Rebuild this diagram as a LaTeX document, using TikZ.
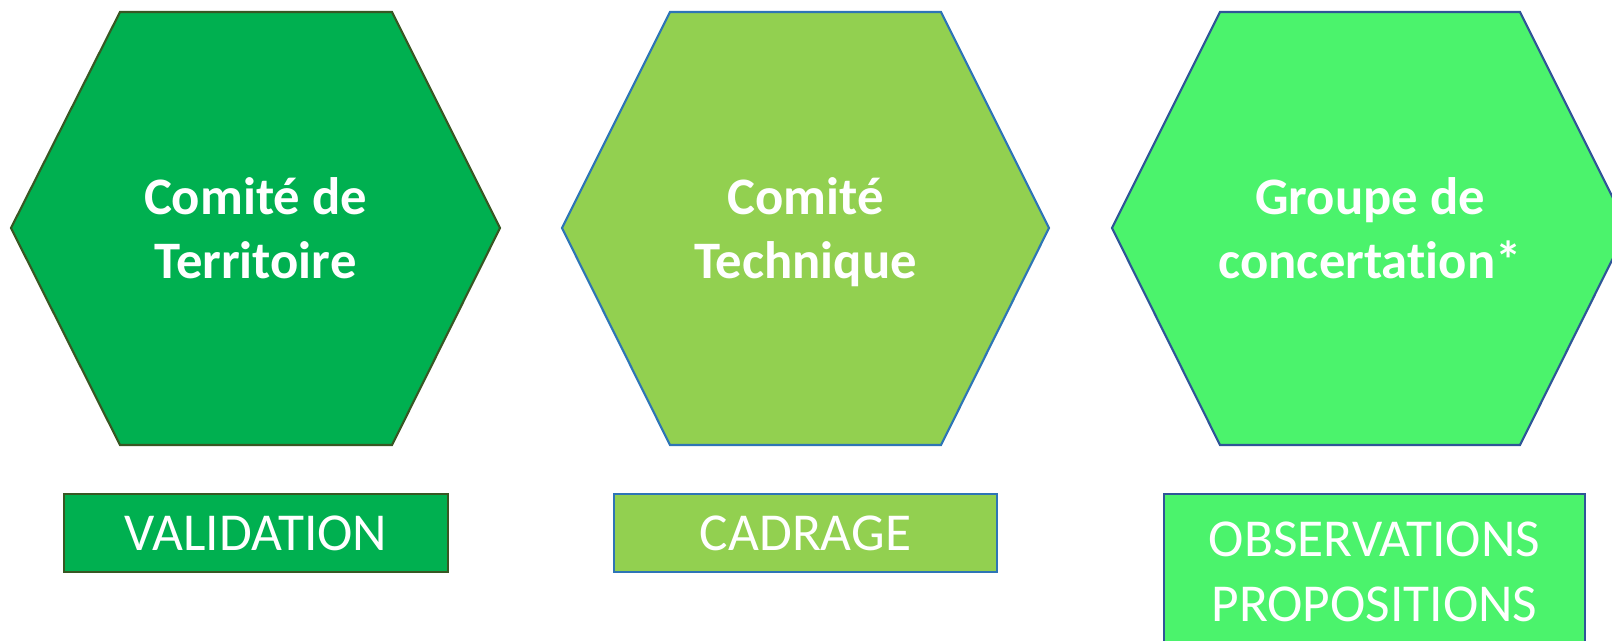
\documentclass[tikz,border=0pt]{standalone}
\usepackage{fontspec}
\setmainfont{Carlito}[Ligatures={NoCommon,NoContextual}]
\usetikzlibrary{positioning}

\definecolor{vertFonce}{HTML}{00B050}
\definecolor{vertClair}{HTML}{92D050}
\definecolor{vertVif}{HTML}{4BF36C}
\definecolor{bordOlive}{HTML}{385723}
\definecolor{bordBleu}{HTML}{2E75B6}
\definecolor{bordMarine}{HTML}{2F5597}

\tikzset{
  hexa/.style={draw=#1, line width=1.6pt, line join=miter},
  titre/.style={text=white, align=center, text depth=0pt,
    font=\fontsize{39.5}{48}\selectfont\bfseries},
  etiquette/.style={draw=#1, line width=1.6pt, text=white, align=center,
    font=\fontsize{40}{48.75}\selectfont, inner sep=0pt}
}

\begin{document}
\begin{tikzpicture}[x=0.75pt,y=-0.75pt]
    \useasboundingbox (0,0) rectangle (1612,640);
    \clip (0,0) rectangle (1612,640);
    % les trois hexagones
    \filldraw[hexa=bordOlive, fill=vertFonce] (11,228) -- (120,12) -- (392,12) -- (500,228) -- (392,445) -- (120,445) -- cycle;
    \filldraw[hexa=bordBleu, fill=vertClair] (562,228) -- (670,12) -- (941,12) -- (1049,228) -- (941,445) -- (670,445) -- cycle;
    \filldraw[hexa=bordMarine, fill=vertVif] (1112,228) -- (1220,12) -- (1520,12) -- (1628,228) -- (1520,445) -- (1220,445) -- cycle;
    \node[titre] (territoire) at (255.5,228) {Comité de\\Territoire};
    \node[titre] (technique) at (805.5,228) {Comité\\Technique};
    \node[titre] (concertation) at (1370,228) {Groupe de\\concertation*};
    % les cadres du bas
    \node[etiquette=bordOlive, fill=vertFonce, minimum width=384*0.75pt, minimum height=78*0.75pt, text depth=-1.5pt] (validation) at (256,533) {VALIDATION};
    \node[etiquette=bordBleu, fill=vertClair, minimum width=383*0.75pt, minimum height=78*0.75pt, text depth=-1.5pt] (cadrage) at (805.5,533) {CADRAGE};
    \node[etiquette=bordMarine, fill=vertVif, minimum width=421*0.75pt, minimum height=155*0.75pt] (observations) at (1374.5,571.5) {OBSERVATIONS\\PROPOSITIONS};
\end{tikzpicture}
\end{document}
